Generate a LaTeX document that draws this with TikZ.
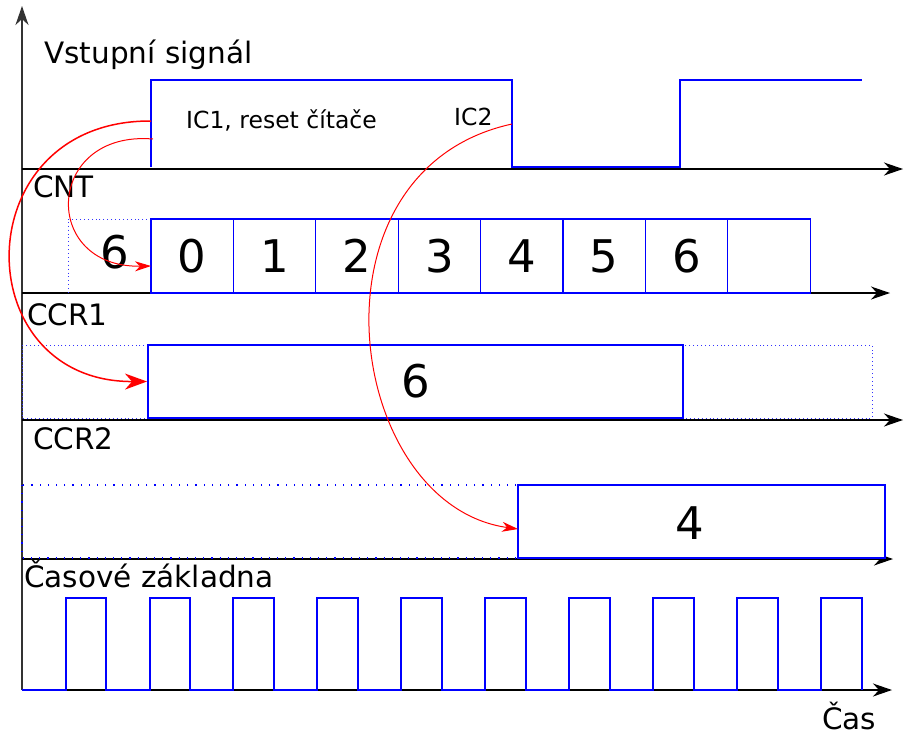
\documentclass[tikz,border=0pt]{standalone}
\usepackage{fontspec}
\setmainfont{DejaVu Sans}
\usetikzlibrary{arrows.meta,positioning}

\tikzset{
    axis/.style={line width=1.3pt, -{Stealth[length=19pt,width=13pt,inset=6pt]}},
    sig/.style={draw=blue, line width=1.1pt},
    cell/.style={draw=blue, line width=1.1pt, minimum width=82.4pt, minimum height=74pt, inner sep=0pt, font=\fontsize{45}{50}\selectfont},
    regbox/.style={draw=blue, fill=white, line width=2pt, inner sep=0pt, font=\fontsize{45}{50}\selectfont},
    digit/.style={inner sep=0pt, font=\fontsize{45}{50}\selectfont},
    ghost/.style={draw=blue!80, line width=0.9pt, dash pattern=on 0.9pt off 3pt},
    ghostwide/.style={draw=blue, line width=1.2pt, dash pattern=on 1.2pt off 7pt},
    lbl/.style={anchor=base west, inner sep=0pt, font=\fontsize{29.5}{34}\selectfont},
    smalllbl/.style={anchor=base west, inner sep=0pt, font=\fontsize{23.5}{27}\selectfont},
    capture/.style={red, line width=1pt, -{Stealth[length=16pt,width=10pt,inset=5pt]}},
    bigcapture/.style={red, line width=1.5pt, -{Stealth[length=22pt,width=16pt,inset=7pt]}}
}

\begin{document}
\begin{tikzpicture}[x=1pt, y=-1pt]
    \useasboundingbox (0,0) rectangle (905,737);

    % Vertical axis
    \draw[axis, black!80, line width=2pt] (22,690) -- (22,6);

    % Input signal
    \draw[axis] (22,169) -- (903,169);
    \node[lbl] (vstup) at (44,63) {Vstupní signál};
    \draw[sig] (151,167) -- (151,80) -- (512,80) -- (512,167) -- (680,167) -- (680,80) -- (862,80);
    \coordinate (ic1) at (151,121);
    \coordinate (ic1b) at (153,139);
    \coordinate (ic2) at (512,124);
    \node[smalllbl] (ic1lab) at (186,128) {IC1, reset čítače};
    \node[smalllbl] (ic2lab) at (454,125) {IC2};

    % CNT
    \draw[axis] (22,293) -- (890,293);
    \node[lbl] (cntlab) at (33,197) {CNT};
    \draw[ghost] (151,219) -- (68,219) -- (68,293);
    \node[digit] (cntprev) at (115,252) {6};
    \node[cell] (cnt0) at (192.2,256) {0};
    \node[cell] (cnt1) at (274.6,256) {1};
    \node[cell] (cnt2) at (357.0,256) {2};
    \node[cell] (cnt3) at (439.4,256) {3};
    \node[cell] (cnt4) at (521.8,256) {4};
    \node[cell] (cnt5) at (604.2,256) {5};
    \node[cell] (cnt6) at (686.6,256) {6};
    \node[cell] (cnt7) at (769.0,256) {};
    \coordinate (cntin) at (151,266);

    % CCR1
    \draw[axis] (22,420) -- (903,420);
    \node[lbl] (ccr1lab) at (27,325) {CCR1};
    \draw[ghost] (22,345) rectangle (872,418);
    \node[regbox, minimum width=535pt, minimum height=73pt] (ccr1) at (415.5,381.5) {6};

    % CCR2
    \draw[axis] (22,559) -- (893,559);
    \node[lbl] (ccr2lab) at (33,449) {CCR2};
    \draw[ghostwide] (22,485) rectangle (885,558);
    \node[regbox, minimum width=367pt, minimum height=73pt] (ccr2) at (701.5,521.5) {};
    \node[digit] (ccr2val) at (690,523) {4};
    \coordinate (ccr2in) at (518,529);

    % Time base
    \draw[axis] (22,690) -- (892,690);
    \node[lbl] (zaklad) at (24,587) {Časové základna};
    \node[lbl] (cas) at (822,729) {Čas};
    \draw[sig] (22,690) -- (66,690) -- (66,598) -- (106,598) -- (106,690)
        -- (150,690) -- (150,598) -- (190,598) -- (190,690)
        -- (233,690) -- (233,598) -- (274,598) -- (274,690)
        -- (317,690) -- (317,598) -- (358,598) -- (358,690)
        -- (401,690) -- (401,598) -- (442,598) -- (442,690)
        -- (485,690) -- (485,598) -- (526,598) -- (526,690)
        -- (569,690) -- (569,598) -- (610,598) -- (610,690)
        -- (653,690) -- (653,598) -- (694,598) -- (694,690)
        -- (737,690) -- (737,598) -- (778,598) -- (778,690)
        -- (821,690) -- (821,598) -- (862,598) -- (862,690);

    % Captures
    \draw[bigcapture] (ic1) .. controls (-35,120) and (-35,382) .. (ccr1.west);
    \draw[capture] (ic1b) .. controls (45,130) and (40,268) .. (cntin);
    \draw[capture] (ic2) .. controls (300,170) and (345,505) .. (ccr2in);
\end{tikzpicture}
\end{document}
